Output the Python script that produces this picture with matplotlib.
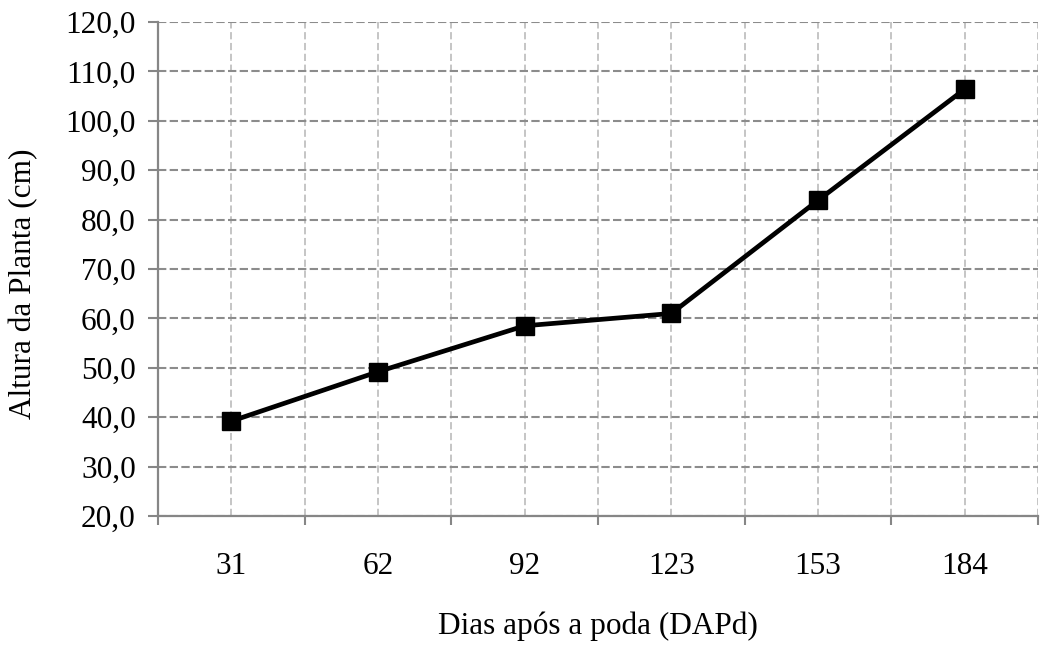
import matplotlib
matplotlib.use("Agg")
import matplotlib.pyplot as plt
from matplotlib.ticker import FixedLocator, FuncFormatter

# dados
dias = ['31', '62', '92', '123', '153', '184']
altura = [39.2, 49.2, 58.5, 61.0, 83.9, 106.4]
yticks = [20, 30, 40, 50, 60, 70, 80, 90, 100, 110, 120]

plt.rcParams['font.family'] = ['Liberation Serif', 'DejaVu Serif']

fig = plt.figure(figsize=(10.41, 6.46), dpi=100)
ax = fig.add_axes([158/1041, 130/646, 880/1041, 494/646])

x = list(range(len(dias)))
ax.plot(x, altura, color='black', lw=3.4, marker='s', markersize=13, zorder=5)

ax.set_xlim(-0.5, len(dias) - 0.5)
ax.set_ylim(20, 120)
ax.set_yticks(yticks)
ax.yaxis.set_major_formatter(FuncFormatter(lambda v, p: f"{v:.1f}".replace('.', ',')))

ax.set_xticks(x)
ax.set_xticklabels(dias)
ax.xaxis.set_minor_locator(FixedLocator([i - 0.5 for i in range(len(dias) + 1)]))

# grades
ax.grid(axis='y', which='major', color='#8c8c8c', ls=(0, (4, 1.6)), lw=1.5)
ax.grid(axis='x', which='major', color='#c0c0c0', ls=(0, (4, 2)), lw=1.3)
ax.grid(axis='x', which='minor', color='#c0c0c0', ls=(0, (4, 2)), lw=1.3)
ax.set_axisbelow(True)

for s in ['top', 'right']:
    ax.spines[s].set_visible(False)
for s in ['left', 'bottom']:
    ax.spines[s].set_color('#868686')
    ax.spines[s].set_linewidth(1.6)

ax.tick_params(axis='y', length=7, width=1.5, color='#868686', pad=9, labelsize=22.5)
ax.tick_params(axis='x', which='major', length=0, pad=26, labelsize=22.5)
ax.tick_params(axis='x', which='minor', length=6.5, width=1.5, color='#868686')

ax.set_xlabel('Dias após a poda (DAPd)', fontsize=22.5, labelpad=22)
ax.set_ylabel('Altura da Planta (cm)', fontsize=22.5)
ax.yaxis.set_label_coords(-0.136, 0.47)

fig.savefig('out.png', dpi=100)
